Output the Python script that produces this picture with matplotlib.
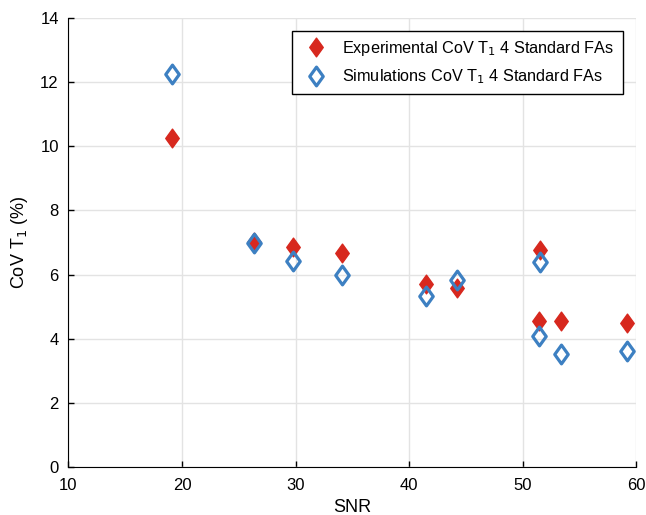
import numpy as np
import matplotlib.pyplot as plt
from matplotlib.path import Path

plt.rcParams['font.family'] = 'Liberation Sans'
plt.rcParams['font.size'] = 12

# SNR values and CoV T1 (%)
snr = [19.1, 26.3, 29.8, 34.1, 41.5, 44.2, 51.5, 51.4, 53.4, 59.2]
cov_exp = [10.25, 7.02, 6.86, 6.67, 5.71, 5.58, 6.77, 4.55, 4.55, 4.49]
cov_sim = [12.25, 7.0, 6.42, 5.99, 5.33, 5.83, 6.39, 4.08, 3.52, 3.62]

# MATLAB-like diamond (wider than matplotlib's thin diamond)
diamond = Path([(0, 1), (0.72, 0), (0, -1), (-0.72, 0), (0, 1)],
               [Path.MOVETO, Path.LINETO, Path.LINETO, Path.LINETO,
                Path.CLOSEPOLY])

fig = plt.figure(figsize=(6.46, 5.15), dpi=100)
ax = fig.add_axes([0.106, 0.093, 0.879, 0.872])

ax.plot(snr, cov_exp, linestyle='none', marker=diamond, ms=13.5,
        color='#d7281e', mec='#d7281e',
        label='Experimental CoV T$_1$ 4 Standard FAs')
ax.plot(snr, cov_sim, linestyle='none', marker=diamond, ms=13.5,
        mfc='none', mec='#3d80c2', mew=2.3,
        label='Simulations CoV T$_1$ 4 Standard FAs')

ax.set_xlim(10, 60)
ax.set_ylim(0, 14)
ax.set_xticks(np.arange(10, 61, 10))
ax.set_yticks(np.arange(0, 15, 2))
ax.grid(True, color='#e3e3e3', lw=1.0)
ax.set_axisbelow(True)
for s in ('top', 'right'):
    ax.spines[s].set_visible(False)
ax.tick_params(direction='in', length=4, width=1, labelsize=12)
ax.tick_params(axis='x', pad=8)
ax.tick_params(axis='y', pad=7)
ax.set_xlabel('SNR', fontsize=13, labelpad=4)
ax.set_ylabel('CoV T$_1$ (%)', fontsize=13, labelpad=7)

leg = ax.legend(loc='upper right', bbox_to_anchor=(0.99, 0.99),
                fontsize=11.7, frameon=True, fancybox=False,
                edgecolor='black', framealpha=1, borderpad=0.5,
                handletextpad=0.6, labelspacing=0.6, markerscale=1.0)
leg.get_frame().set_linewidth(1.0)

plt.savefig('out.png', dpi=100)
